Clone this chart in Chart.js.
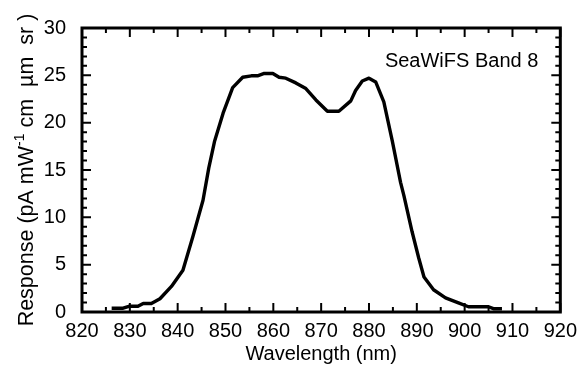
<!DOCTYPE html>
<html><head><meta charset="utf-8">
<script src="https://cdn.jsdelivr.net/npm/chart.js@4"></script>
<style>html,body{margin:0;padding:0;background:#fff}#wrap{width:584px;height:367px}</style>
</head><body><div id="wrap"><canvas id="c" width="584" height="367"></canvas></div>
<script>
const wavelength = [826.2,828.6,829.8,831.7,832.8,834.5,836.3,838.7,841.1,843.2,845.3,846.5,847.7,849.5,851.5,853.6,855.4,856.7,858.1,859.9,861.2,862.6,864.7,866.8,868.9,871.3,873.7,876.2,877.2,878.6,880.0,881.4,883.1,884.9,886.6,887.3,889.0,890.4,891.5,893.5,896.0,898.7,900.8,905.0,906.0,907.8];
const response   = [0.4,0.4,0.6,0.6,0.9,0.9,1.4,2.7,4.4,8.0,11.8,15.2,18.0,21.0,23.7,24.8,24.95,24.95,25.2,25.2,24.8,24.7,24.2,23.6,22.4,21.2,21.2,22.3,23.4,24.4,24.7,24.3,22.2,18.0,13.7,12.3,8.5,5.7,3.7,2.35,1.5,0.97,0.55,0.55,0.35,0.35];
const xTickLabels = [820,830,840,850,860,870,880,890,900,910,920];
const yTickLabels = [0,5,10,15,20,25,30];
const xTitle = "Wavelength (nm)";
const yTitleMain = "Response (pA mW";
const yTitleSup = "-1";
const yTitleRest = " cm  \u00b5m  sr )";
const annotationText = "SeaWiFS Band 8";

const FAM = "'Liberation Sans', Arial, Helvetica, sans-serif";
Chart.defaults.font.family = FAM;
Chart.defaults.color = '#000';

const framePlugin = {
  id: 'frameTicks',
  afterDatasetsDraw(chart) {
    const {ctx, chartArea: a, scales: {x, y}} = chart;
    ctx.save();
    ctx.strokeStyle = '#000';
    ctx.lineWidth = 2;
    ctx.beginPath();
    for (let i = 0; i < xTickLabels.length; i++) {
      const px = x.getPixelForValue(xTickLabels[i]);
      ctx.moveTo(px, a.bottom); ctx.lineTo(px, a.bottom - 9);
      ctx.moveTo(px, a.top); ctx.lineTo(px, a.top + 9);
      if (i < xTickLabels.length - 1) {
        const pm = x.getPixelForValue((xTickLabels[i] + xTickLabels[i+1]) / 2);
        ctx.moveTo(pm, a.bottom); ctx.lineTo(pm, a.bottom - 5);
        ctx.moveTo(pm, a.top); ctx.lineTo(pm, a.top + 5);
      }
    }
    for (let v = y.min; v <= y.max; v += 1) {
      const py = y.getPixelForValue(v);
      const len = (v % 5 === 0) ? 9 : 5;
      ctx.moveTo(a.left, py); ctx.lineTo(a.left + len, py);
      ctx.moveTo(a.right, py); ctx.lineTo(a.right - len, py);
    }
    ctx.stroke();
    ctx.lineWidth = 3;
    ctx.strokeRect(a.left, a.top, a.right - a.left, a.bottom - a.top);
    ctx.restore();
  },
  afterDraw(chart) {
    const {ctx, chartArea: a} = chart;
    ctx.save();
    ctx.fillStyle = '#000';
    ctx.font = '20px ' + FAM;
    ctx.textAlign = 'right';
    ctx.textBaseline = 'alphabetic';
    ctx.fillText(annotationText, a.right - 22, a.top + 39);
    const big = '21.5px ' + FAM, small = '14px ' + FAM;
    ctx.font = big; const w1 = ctx.measureText(yTitleMain).width;
    ctx.font = small; const w2 = ctx.measureText(yTitleSup).width;
    ctx.font = big; const w3 = ctx.measureText(yTitleRest).width;
    const total = w1 + w2 + w3;
    const cy = (a.top + a.bottom) / 2;
    ctx.translate(33, cy);
    ctx.rotate(-Math.PI / 2);
    ctx.textAlign = 'left';
    let sx = -total / 2;
    ctx.font = big; ctx.fillText(yTitleMain, sx, 0); sx += w1;
    ctx.font = small; ctx.fillText(yTitleSup, sx, -9); sx += w2;
    ctx.font = big; ctx.fillText(yTitleRest, sx, 0);
    ctx.restore();
  }
};

new Chart(document.getElementById('c'), {
  type: 'line',
  data: {
    datasets: [{
      data: wavelength.map((w, i) => ({x: w, y: response[i]})),
      borderColor: '#000',
      borderWidth: 3.4,
      pointRadius: 0,
      tension: 0,
      fill: false,
      borderJoinStyle: 'round'
    }]
  },
  options: {
    responsive: false,
    devicePixelRatio: 1,
    animation: false,
    layout: {padding: {top: 11, right: 5, left: 0, bottom: 0}},
    plugins: {legend: {display: false}, tooltip: {enabled: false}},
    scales: {
      x: {
        type: 'linear', min: 820, max: 920,
        afterBuildTicks: s => { s.ticks = xTickLabels.map(v => ({value: v})); },
        ticks: {font: {size: 20}, color: '#000', padding: 7, maxRotation: 0, autoSkip: false},
        grid: {display: false, drawTicks: false, tickLength: 0},
        border: {display: false},
        title: {display: true, text: xTitle, font: {size: 20}, color: '#000', padding: {top: 0, bottom: 1}},
        afterFit: s => { s.height = 55; }
      },
      y: {
        type: 'linear', min: 0, max: 30,
        afterBuildTicks: s => { s.ticks = yTickLabels.map(v => ({value: v})); },
        ticks: {font: {size: 20}, color: '#000', padding: 16},
        grid: {display: false, drawTicks: false, tickLength: 0},
        border: {display: false},
        afterFit: s => { s.width = 82; }
      }
    }
  },
  plugins: [framePlugin]
});
</script>
</body></html>
